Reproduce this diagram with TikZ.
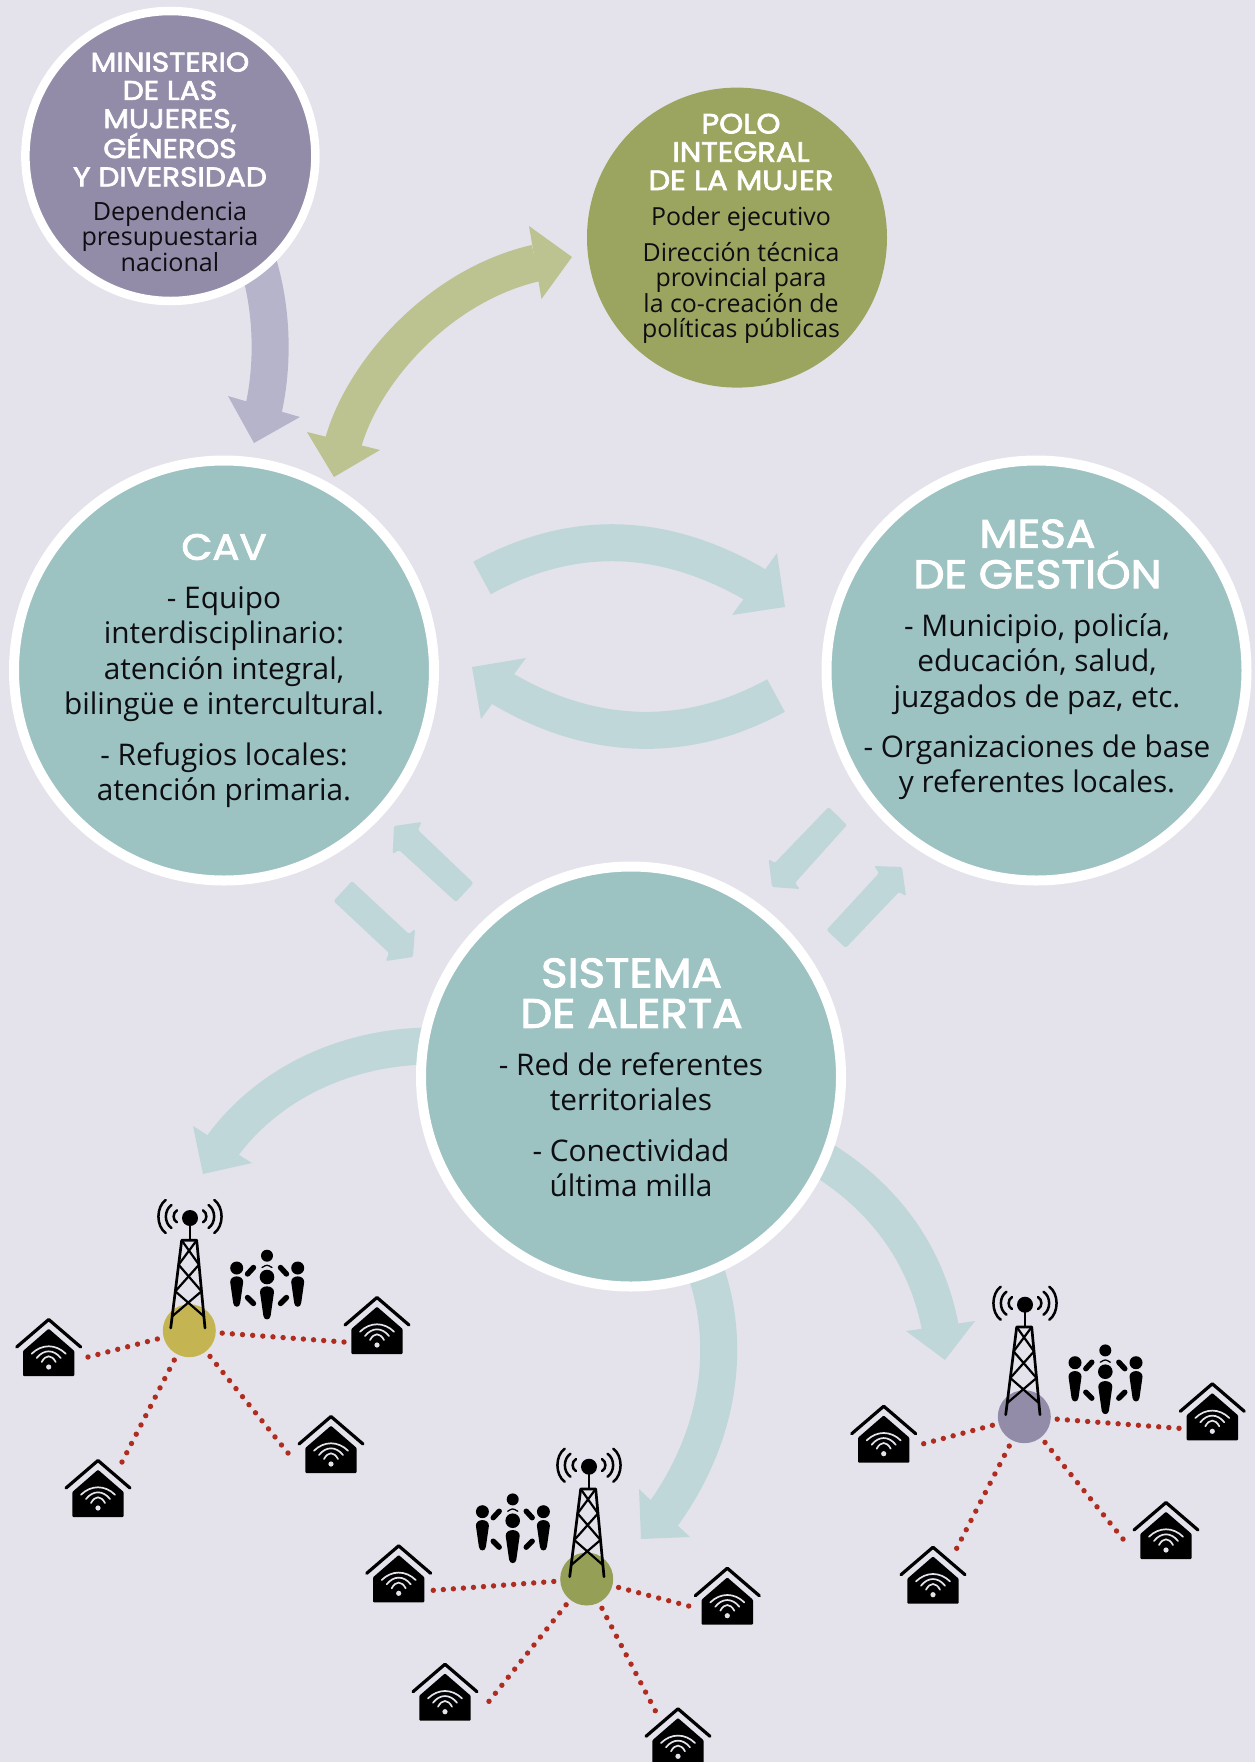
\documentclass[tikz,border=0pt]{standalone}
\usepackage{fontspec}
\usetikzlibrary{calc}
\setmainfont{Open Sans}
\newfontfamily\headfont{Poppins}[FakeBold=2.5,FakeStretch=1.1]
\definecolor{bgc}{HTML}{E4E3EC}
\definecolor{tealc}{HTML}{9CC2C1}
\definecolor{tealarrow}{HTML}{C0D7D9}
\definecolor{purplec}{HTML}{938CA9}
\definecolor{purplearrow}{HTML}{B6B4CA}
\definecolor{olivec}{HTML}{9CA55F}
\definecolor{greenarrow}{HTML}{BCC391}
\definecolor{hubolive}{HTML}{959F55}
\definecolor{hubyellow}{HTML}{C5B552}
\definecolor{redc}{HTML}{B02C1E}
\definecolor{inkc}{HTML}{0D0D12}
\tikzset{
  disc/.style={circle,draw=white,line width=10pt,minimum size=420pt,inner sep=0pt,fill=tealc},
  smalldisc/.style={circle,draw=white,line width=8.5pt,minimum size=290pt,inner sep=0pt,fill=purplec},
  plaindisc/.style={circle,minimum size=300pt,inner sep=0pt,fill=olivec},
  hubdot/.style={circle,minimum size=53pt,inner sep=0pt},
  headtext/.style={align=center,text=white,inner sep=0pt},
  bodytext/.style={align=center,text=inkc,inner sep=0pt},
  smallarrow/.style={fill=tealarrow,rounded corners=1.5pt},
  housepic/.pic={
    \fill[black,rounded corners=1pt] (0,10.7)--(25.7,33)--(25.7,58)--(-25.7,58)--(-25.7,33)--cycle;
    \draw[black,line width=3.2pt,line cap=round,line join=round] (-32,29)--(0,1.5)--(32,29);
    \draw[bgc,line width=1.7pt,line cap=round]
      (-17,35.7) .. controls (-7,25.8) and (7,25.8) .. (17,35.7)
      (-12,40) .. controls (-5,31.1) and (5,31.1) .. (12,40)
      (-7,44) .. controls (-3,36.4) and (3,36.4) .. (7,44);
    \fill[bgc] (0,49) circle (2.6pt);
  },
  towerpic/.pic={
    \fill[black] (0,0) circle (8pt);
    \draw[black,line width=2.2pt] (0,0)--(0,22.3);
    \draw[black,line width=2.7pt,line cap=round,line join=round]
      (-19.3,110)--(-8.3,22.3)--(6.7,22.3)--(15,110);
    \draw[black,line width=2.2pt,line cap=round]
      (-8.3,22.3)--(9,46.7) (6.7,22.3)--(-11.4,46.7)
      (-11.4,46.7)--(11.5,73.3) (9,46.7)--(-14.7,73.3)
      (-14.7,73.3)--(13.9,98.3) (11.5,73.3)--(-17.8,98.3);
    \draw[black,line width=2.5pt,line cap=round]
      (-24.3,-18) .. controls (-34,-11) and (-34,8) .. (-24.3,15)
      (-18.5,-13) .. controls (-26,-8) and (-26,5) .. (-18.5,10)
      (-13,-7.7) .. controls (-17.5,-5) and (-17.5,2) .. (-13,4.3)
      (24.3,-18) .. controls (34,-11) and (34,8) .. (24.3,15)
      (18.5,-13) .. controls (26,-8) and (26,5) .. (18.5,10)
      (13,-7.7) .. controls (17.5,-5) and (17.5,2) .. (13,4.3);
  },
  peoplepic/.pic={
    \fill[black] (0,0) circle (7.3pt) (0,-21.3) circle (6pt) (-30.3,-9) circle (6.5pt) (30.7,-9) circle (6.5pt);
    \fill[black] (-7,15) .. controls (-7,7.5) and (7,7.5) .. (7,15)
      -- (3.6,39) .. controls (3,43.5) and (-3,43.5) .. (-3.6,39) -- cycle;
    \fill[black] (-36.8,5) .. controls (-36.8,-2.5) and (-23.8,-2.5) .. (-23.8,5)
      -- (-26.8,26) .. controls (-27.3,31) and (-33.3,31) .. (-33.8,26) -- cycle;
    \fill[black] (24.2,5) .. controls (24.2,-2.5) and (37.2,-2.5) .. (37.2,5)
      -- (34.2,26) .. controls (33.7,31) and (27.7,31) .. (27.2,26) -- cycle;
    \draw[black,line width=5.4pt,line cap=round]
      (-19.5,-3) -- (-13.5,-9.5) (19.5,-3) -- (13.5,-9.5)
      (-19.5,20.5) -- (-13.5,26.5) (19.5,20.5) -- (13.5,26.5);
    \draw[black,line width=1.3pt,line cap=round] (-5,-9.5) .. controls (0,-12.5) .. (5,-9.5);
  },
}
% name, colour, start, control 1, control 2, end, head corner, head corner, tip
\newcommand{\flowarrow}[9]{%
  \coordinate (#1-s) at #3;
  \coordinate (#1-e) at #6;
  \coordinate (#1-t) at #9;
  \draw[#2,line width=37pt] (#1-s) .. controls #4 and #5 .. (#1-e) -- ($(#1-e)!0.3!(#1-t)$);
  \fill[#2] #7 -- #8 -- (#1-t) -- cycle;
}
% hub node, free end coordinate, number of gaps
\newcommand{\wireto}[3]{%
  \coordinate (#2-n) at ($(#1)!33pt!(#2)$);
  \foreach \i in {0,...,#3}{\fill[redc] ($(#2)!{\i/#3}!(#2-n)$) circle (2.7pt);}
}
\begin{document}
\begin{tikzpicture}[x=1pt,y=-1pt]
\useasboundingbox (0,0) rectangle (1255,1762);
\clip (0,0) rectangle (1255,1762);
\fill[bgc] (0,0) rectangle (1255,1762);

% large arrows
\flowarrow{amin}{purplearrow}{(252,245)}{(273,300)}{(274,360)}{(264,407)}{(228,396)}{(300,417)}{(254,443)}
\flowarrow{apoloa}{greenarrow}{(536,263)}{(440,285)}{(365,370)}{(344,440)}{(307,432)}{(380,450)}{(334,477)}
\coordinate (apolob-t) at (572,257);
\fill[greenarrow] (529,226) -- (541.5,299) -- (apolob-t) -- cycle;
\flowarrow{acm}{tealarrow}{(482,578)}{(570,530)}{(660,530)}{(754,584)}{(777,553)}{(732,615)}{(785,607)}
\flowarrow{amc}{tealarrow}{(776,695.5)}{(690,743)}{(595,743)}{(503,689)}{(526,658)}{(481,719)}{(472,667)}
\flowarrow{asl}{tealarrow}{(440,1046)}{(350,1044)}{(270,1082)}{(223.5,1144.5)}{(193,1126)}{(252,1163)}{(203,1174)}
\flowarrow{asb}{tealarrow}{(697,1250)}{(730,1320)}{(730,1420)}{(664.5,1512.5)}{(639,1489)}{(690,1537)}{(641,1539)}
\flowarrow{asr}{tealarrow}{(815,1155)}{(880,1193)}{(925,1250)}{(940,1326)}{(906,1331)}{(975,1321)}{(945,1360)}

% small arrows
\fill[smallarrow] (473.5,883)--(418,830)--(421.6,822)--(394,826)--(392.7,854)--(399,850)--(456,902)--cycle;
\fill[smallarrow] (352,881)--(409,934)--(415,929)--(413,957)--(385.7,961)--(389,953)--(333.5,901)--cycle;
\fill[smallarrow] (828.6,807)--(774.7,863)--(768.6,859)--(772,887)--(800,889)--(795,883)--(847,825)--cycle;
\fill[smallarrow] (826.5,930)--(879,873)--(874,866)--(902,867)--(906,896)--(899,892)--(845.7,948)--cycle;

% main circles
\node[smalldisc] (min) at (170.4,156) {};
\node[plaindisc] (polo) at (737,237.6) {};
\node[disc] (cav) at (224,670.5) {};
\node[disc] (mesa) at (1036.5,670.5) {};
\node[disc] (sis) at (631,1076.5) {};

% texts
\node[headtext,font=\headfont\fontsize{27}{28.3}\selectfont] (minh) at (170,119.5) {MINISTERIO\\DE LAS\\MUJERES,\\GÉNEROS\\Y DIVERSIDAD};
\node[bodytext,font=\fontsize{25.1}{25.3}\selectfont] (minb) at (170,236.5) {Dependencia\\presupuestaria\\nacional};
\node[headtext,font=\headfont\fontsize{27.8}{28.3}\selectfont] (poloh) at (741,152) {POLO\\INTEGRAL\\DE LA MUJER};
\node[bodytext,font=\fontsize{24.9}{25.3}\selectfont] (polob) at (741,219.4) {Poder ejecutivo};
\node[bodytext,font=\fontsize{24.9}{25.3}\selectfont] (poloc) at (741,293) {Dirección técnica\\provincial para\\la co-creación de\\políticas públicas};
\node[headtext,font=\headfont\fontsize{36.5}{40.5}\selectfont] (cavh) at (224,547) {CAV};
\node[bodytext,font=\fontsize{29.8}{35.2}\selectfont] (cavb) at (224,654.2) {- Equipo\\interdisciplinario:\\atención integral,\\bilingüe e intercultural.};
\node[bodytext,font=\fontsize{29.8}{35.2}\selectfont] (cavc) at (224,775.5) {- Refugios locales:\\atención primaria.};
\node[headtext,font=\headfont\fontsize{40}{40.5}\selectfont] (mesah) at (1037.5,554) {MESA\\DE GESTIÓN};
\node[bodytext,font=\fontsize{29.8}{35.2}\selectfont] (mesab) at (1037,664) {- Municipio, policía,\\educación, salud,\\juzgados de paz, etc.};
\node[bodytext,font=\fontsize{29.8}{35.2}\selectfont] (mesac) at (1037,767.4) {- Organizaciones de base\\y referentes locales.};
\node[headtext,font=\headfont\fontsize{41}{40.5}\selectfont] (sish) at (631.5,993) {SISTEMA\\DE ALERTA};
\node[bodytext,font=\fontsize{29.8}{35.2}\selectfont] (sisb) at (631,1081.5) {- Red de referentes\\territoriales};
\node[bodytext,font=\fontsize{29.8}{35.2}\selectfont] (sisc) at (631,1168) {- Conectividad\\última milla};

% cluster 1
\node[hubdot,fill=hubyellow] (hub1) at (189.3,1330.7) {};
\coordinate (w1a) at (88,1357); \coordinate (w1b) at (344,1342); \coordinate (w1c) at (288,1453); \coordinate (w1d) at (122,1462);
\wireto{hub1}{w1a}{7} \wireto{hub1}{w1b}{12} \wireto{hub1}{w1c}{12} \wireto{hub1}{w1d}{11}
\pic at (190,1218) {towerpic};
\pic at (267,1277) {peoplepic};
\pic at (48.7,1318) {housepic};
\pic at (377,1296) {housepic};
\pic at (331,1415) {housepic};
\pic at (98,1459) {housepic};

% cluster 2
\node[hubdot,fill=hubolive] (hub2) at (586.7,1579) {};
\coordinate (w2a) at (433.3,1590.3); \coordinate (w2b) at (688.7,1606); \coordinate (w2c) at (489,1701.3); \coordinate (w2d) at (655.3,1710.7);
\wireto{hub2}{w2a}{12} \wireto{hub2}{w2b}{7} \wireto{hub2}{w2c}{12} \wireto{hub2}{w2d}{11}
\pic at (589,1466.7) {towerpic};
\pic at (512.7,1520.7) {peoplepic};
\pic at (398.7,1544.3) {housepic};
\pic at (727.3,1566.7) {housepic};
\pic at (445,1662.7) {housepic};
\pic at (678,1707.3) {housepic};

% cluster 3
\node[hubdot,fill=purplec] (hub3) at (1024.3,1416.7) {};
\coordinate (w3a) at (923.7,1443.7); \coordinate (w3b) at (1179,1428.3); \coordinate (w3c) at (1123,1539); \coordinate (w3d) at (956.7,1548.3);
\wireto{hub3}{w3a}{7} \wireto{hub3}{w3b}{12} \wireto{hub3}{w3c}{12} \wireto{hub3}{w3d}{11}
\pic at (1025,1304.7) {towerpic};
\pic at (1105.3,1371.7) {peoplepic};
\pic at (883.7,1404.7) {housepic};
\pic at (1212.3,1382.3) {housepic};
\pic at (1166,1501) {housepic};
\pic at (933,1545.7) {housepic};
\end{tikzpicture}
\end{document}
